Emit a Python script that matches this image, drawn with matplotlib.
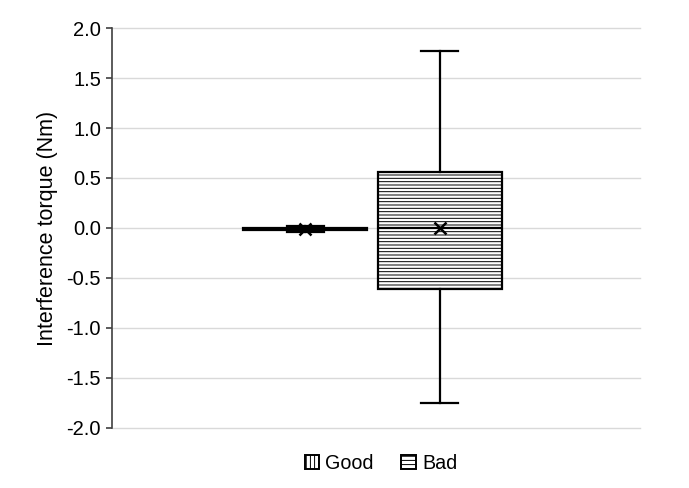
import matplotlib.pyplot as plt
from matplotlib.patches import Patch

plt.rcParams['font.family'] = ['Liberation Sans', 'DejaVu Sans']
plt.rcParams['hatch.color'] = '#444444'
plt.rcParams['hatch.linewidth'] = 0.7

series = ['Good', 'Bad']
hatches = ['||||', '-----']
whisker_lo = [-0.04, -1.75]
q1 = [-0.02, -0.61]
medians = [-0.01, 0.0]
q3 = [0.0, 0.56]
whisker_hi = [0.02, 1.77]
means = [-0.01, 0.0]
yticks = [-2.0, -1.5, -1.0, -0.5, 0.0, 0.5, 1.0, 1.5, 2.0]

positions = [0.366, 0.621]
box_width = 0.235
cap_width = 0.07

stats = []
for i, name in enumerate(series):
    stats.append({
        'label': name, 'whislo': whisker_lo[i], 'q1': q1[i], 'med': medians[i],
        'q3': q3[i], 'whishi': whisker_hi[i], 'mean': means[i], 'fliers': [],
    })

fig = plt.figure(figsize=(6.89, 4.88), dpi=100)
ax = fig.add_axes([0.1626, 0.123, 0.7664, 0.8196])

bp = ax.bxp(stats, positions=positions, widths=box_width, capwidths=cap_width,
            patch_artist=True, showmeans=True, manage_ticks=False,
            boxprops=dict(facecolor='white', edgecolor='black', linewidth=1.6),
            medianprops=dict(color='black', linewidth=1.6),
            whiskerprops=dict(color='black', linewidth=1.6),
            capprops=dict(color='black', linewidth=1.6),
            meanprops=dict(marker='x', markeredgecolor='black', markersize=8, markeredgewidth=1.8))
for box, h in zip(bp['boxes'], hatches):
    box.set_hatch(h)

ax.set_xlim(0, 1)
ax.set_ylim(-2.0, 2.0)
ax.set_yticks(yticks)
ax.set_yticklabels([f'{t:.1f}' for t in yticks], fontsize=14.5)
ax.set_xticks([])
ax.yaxis.grid(True, color='#d9d9d9', linewidth=1, clip_on=False)
ax.set_axisbelow(True)
for s in ['top', 'right', 'bottom']:
    ax.spines[s].set_visible(False)
ax.spines['left'].set_color('#404040')
ax.spines['left'].set_linewidth(1.2)
ax.tick_params(axis='y', length=4, width=1.2, color='#404040', pad=4)
ax.set_ylabel('Interference torque (Nm)', fontsize=15.5, labelpad=6)

handles = [Patch(facecolor='white', edgecolor='black', linewidth=1.4, hatch=h, label=n)
           for n, h in zip(series, ['||||', '----'])]
fig.legend(handles=handles, loc='center', bbox_to_anchor=(0.553, 0.05), ncol=2,
           frameon=False, fontsize=14.2, handlelength=0.75, handleheight=0.75,
           handletextpad=0.3, columnspacing=1.4)

fig.savefig('out.png', dpi=100)
